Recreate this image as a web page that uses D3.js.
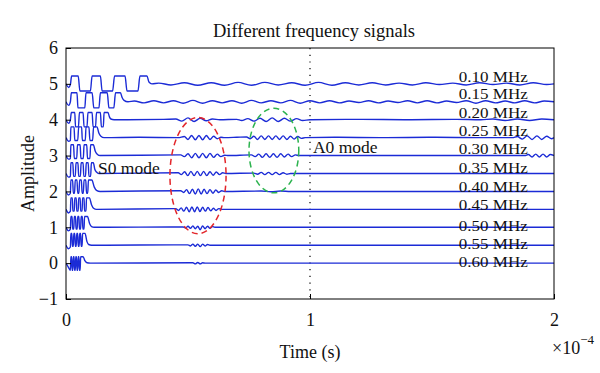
<!DOCTYPE html>
<html>
<head>
<meta charset="utf-8">
<script src="https://cdn.jsdelivr.net/npm/d3@7"></script>
<style>
  body { margin: 0; background: #fff; }
  text { font-family: "Liberation Serif", "Times New Roman", serif; fill: #111; }
</style>
</head>
<body>
<svg id="chart"></svg>
<script>
// time values in microseconds (axis shows them as x10^-4 s)
const freqLabels = ["0.10 MHz", "0.15 MHz", "0.20 MHz", "0.25 MHz", "0.30 MHz", "0.35 MHz",
  "0.40 MHz", "0.45 MHz", "0.50 MHz", "0.55 MHz", "0.60 MHz"];
const offsets = [5, 4.5, 4, 3.5, 3, 2.5, 2, 1.5, 1, 0.5, 0];
const labelPos = [5.19, 4.74, 4.21, 3.71, 3.2, 2.67, 2.14, 1.63, 1.04, 0.54, 0.04];
const xTicks = [0, 100, 200];
const xTickLabels = ["0", "1", "2"];
const yTicks = [-1, 0, 1, 2, 3, 4, 5, 6];

// [time (us), amplitude about the offset]
const sig010 = [[0,0],[1.1,-0.1],[1.8,-0.02],[2.3,0.22],[5.0,0.22],[5.7,-0.2],[10.0,-0.2],[10.7,0.22],
  [14.1,0.22],[14.8,-0.2],[19.1,-0.2],[19.9,0.22],[24.2,0.22],[25.0,-0.2],[29.5,-0.2],[30.3,0.22],
  [33.2,0.22],[34.0,0.05],[35.2,0],[38,0.02],[43,-0.03],[48.5,0.03],[54,-0.04],[59.5,0.03],[65,-0.04],
  [70.5,0.04],[76,-0.04],[81.5,0.04],[87,-0.03],[92.5,0.03],[98,-0.04],[103.5,0.04],[109,-0.04],
  [114.5,0.03],[120,-0.03],[125.5,0.03],[131,-0.03],[136.5,0.02],[142,-0.03],[147.5,0.03],[153,-0.02],
  [158.5,0.02],[164,-0.03],[169.5,0.03],[175,-0.02],[180.5,0.02],[186,-0.03],[191.5,0.03],[197,-0.02],[200,0]];

const sig015 = [[0,0],[1.1,-0.1],[1.8,0],[2.2,0.25],[4.5,0.25],[4.9,-0.17],[7.7,-0.17],[8.2,0.25],
  [10.7,0.25],[11.4,-0.17],[13.5,-0.17],[14.1,0.25],[16.9,0.25],[17.6,-0.17],[19.6,-0.17],[20.3,0.25],
  [22.3,0.25],[23.0,0.12],[23.8,0.04],[25.4,0],[28,0.02],[32,-0.03],[36,0.03],[40,-0.03],[44,0.03],
  [48,-0.04],[52,0.04],[56,-0.04],[60,0.03],[64,-0.03],[68,0.03],[72,-0.04],[76,0.04],[80,-0.03],
  [84,0.03],[88,-0.03],[92,0.04],[96,-0.04],[100,0.03],[104,-0.03],[108,0.03],[112,-0.03],[116,0.02],
  [120,-0.02],[124,0.03],[128,-0.03],[132,0.02],[136,-0.02],[140,0.03],[144,-0.03],[148,0.03],
  [152,-0.03],[156,0.02],[160,-0.02],[164,0.03],[168,-0.04],[172,0.03],[176,-0.03],[180,0.02],
  [184,-0.03],[188,0.03],[192,-0.03],[196,0.02],[200,0]];

const sig020 = [[0,0],[1.1,-0.1],[1.8,0],[2.2,0.2],[3.6,0.2],[3.9,-0.2],[5.1,-0.2],[5.5,0.2],[7.0,0.2],
  [7.4,-0.2],[8.6,-0.2],[9.0,0.2],[10.7,0.2],[11.1,-0.2],[12.1,-0.2],[12.5,0.2],[14.1,0.2],[14.5,-0.2],
  [15.3,-0.2],[15.6,0.2],[17.2,0.2],[17.8,0.08],[18.4,0.02],[19.7,0],[40,0.01],[45,0.02],[47.5,-0.04],
  [50,0.05],[52.5,-0.05],[55,0.04],[57.5,-0.03],[60,0.02],[63,0],[70,0.01],[72,-0.02],[74.5,0.03],
  [77,-0.04],[79.5,0.04],[82,-0.05],[84.5,0.05],[87,-0.05],[89.5,0.04],[92,-0.04],[94.5,0.03],
  [97,-0.02],[100,0],[120,0.01],[140,0],[160,0.01],[170,0],[175,0.02],[180,-0.02],[185,0.02],
  [190,-0.02],[195,0.02],[200,0]];

const sig025 = [[0,0],[1.0,-0.1],[1.8,-0.08],[2.0,0.3],[3.3,0.3],[3.6,-0.08],[4.8,-0.08],[5.2,0.3],
  [6.4,0.3],[6.7,-0.08],[7.9,-0.08],[8.2,0.3],[9.4,0.3],[9.8,-0.08],[10.9,-0.08],[11.3,0.3],[12.7,0.3],
  [13.5,0.12],[14.3,0.04],[15.6,0],[30,0.01],[46,0],[48.5,0.03],[50,-0.05],[51.5,0.06],[53,-0.06],
  [54.5,0.06],[56,-0.06],[57.5,0.06],[59,-0.05],[60.5,0.04],[62,-0.03],[63.5,0.01],[65,0],[70,0.01],
  [74,0.02],[75.5,-0.03],[77,0.04],[78.5,-0.05],[80,0.05],[81.5,-0.05],[83,0.05],[84.5,-0.05],[86,0.05],
  [87.5,-0.05],[89,0.05],[90.5,-0.05],[92,0.04],[93.5,-0.04],[95,0.03],[96.5,-0.02],[98,0],[110,0.01],
  [130,0],[150,0.01],[170,0],[183,0],[185,0.03],[187,-0.04],[189,0.05],[191,-0.05],[193,0.05],
  [195,-0.05],[197,0.04],[199,-0.03],[200,0]];

const sig030 = [[0,0],[1.0,-0.1],[1.8,-0.08],[2.0,0.3],[3.1,0.3],[3.4,-0.08],[4.4,-0.08],[4.7,0.3],
  [5.8,0.3],[6.1,-0.08],[7.1,-0.08],[7.4,0.3],[8.5,0.3],[8.8,-0.08],[9.8,-0.08],[10.1,0.3],[11.2,0.3],
  [12.0,0.12],[12.8,0.04],[14.0,0],[47,0.02],[48.5,-0.03],[50,0.05],[51.5,-0.06],[53,0.06],[54.5,-0.06],
  [56,0.06],[57.5,-0.06],[59,0.06],[60.5,-0.05],[62,0.04],[63.5,-0.03],[65,0.01],[66.5,0],[76,0.02],
  [77.5,-0.03],[79,0.04],[80.5,-0.05],[82,0.05],[83.5,-0.05],[85,0.05],[86.5,-0.05],[88,0.05],
  [89.5,-0.04],[91,0.04],[92.5,-0.03],[94,0.02],[95.5,0],[188,0],[189.5,0.03],[191,-0.04],[192.5,0.04],
  [194,-0.04],[195.5,0.04],[197,-0.04],[198.5,0.03],[200,0]];

const sig035 = [[0,0],[1.0,-0.1],[1.8,-0.08],[2.0,0.3],[2.8,0.3],[3.1,-0.08],[3.8,-0.08],[4.1,0.3],
  [4.9,0.3],[5.2,-0.08],[5.9,-0.08],[6.2,0.3],[7.0,0.3],[7.3,-0.08],[8.0,-0.08],[8.3,0.3],[9.1,0.3],
  [9.4,-0.08],[10.1,-0.08],[10.4,0.3],[11.2,0.3],[11.8,0.12],[12.5,0.04],[13.5,0],[46,0.02],[47.3,-0.03],
  [48.6,0.05],[49.9,-0.06],[51.2,0.06],[52.5,-0.06],[53.8,0.06],[55.1,-0.06],[56.4,0.06],[57.7,-0.06],
  [59,0.05],[60.3,-0.05],[61.6,0.04],[62.9,-0.03],[64.2,0.02],[65.5,0],[77,0.01],[78.5,-0.02],[80,0.03],
  [81.5,-0.03],[83,0.03],[84.5,-0.03],[86,0.03],[87.5,-0.03],[89,0.02],[90.5,-0.02],[92,0],[200,0]];

const sig040 = [[0,0],[1.0,-0.1],[1.8,-0.05],[2.0,0.32],[2.7,0.32],[3.0,-0.05],[3.5,-0.05],[3.8,0.32],
  [4.5,0.32],[4.8,-0.05],[5.3,-0.05],[5.6,0.32],[6.3,0.32],[6.6,-0.05],[7.1,-0.05],[7.4,0.32],[8.1,0.32],
  [8.4,-0.05],[8.9,-0.05],[9.2,0.32],[10.6,0.32],[11.6,0.12],[12.5,0.03],[14,0],[47,0.02],[48.2,-0.03],
  [49.4,0.05],[50.6,-0.06],[51.8,0.06],[53,-0.07],[54.2,0.07],[55.4,-0.07],[56.6,0.06],[57.8,-0.06],
  [59,0.05],[60.2,-0.05],[61.4,0.04],[62.6,-0.03],[63.8,0.02],[65,0],[80,0.01],[84,-0.01],[88,0.01],
  [92,0],[200,0]];

const sig045 = [[0,0],[1.0,-0.1],[1.8,-0.05],[2.0,0.32],[2.6,0.32],[2.8,-0.05],[3.4,-0.05],[3.6,0.32],
  [4.2,0.32],[4.4,-0.05],[5.0,-0.05],[5.2,0.32],[5.8,0.32],[6.0,-0.05],[6.6,-0.05],[6.8,0.32],[7.4,0.32],
  [7.6,-0.05],[8.2,-0.05],[8.4,0.32],[9.6,0.32],[10.5,0.12],[11.3,0.03],[12.5,0],[45,0.02],[46.1,-0.03],
  [47.2,0.04],[48.3,-0.05],[49.4,0.06],[50.5,-0.07],[51.6,0.07],[52.7,-0.07],[53.8,0.07],[54.9,-0.06],
  [56,0.06],[57.1,-0.05],[58.2,0.05],[59.3,-0.04],[60.4,0.03],[61.5,-0.03],[62.6,0.02],[64,0],[200,0]];

const sig050 = [[0,0],[1.0,-0.1],[1.8,-0.05],[2.0,0.3],[2.5,0.3],[2.7,-0.05],[3.2,-0.05],[3.4,0.3],
  [3.9,0.3],[4.1,-0.05],[4.6,-0.05],[4.8,0.3],[5.3,0.3],[5.5,-0.05],[6.0,-0.05],[6.2,0.3],[6.7,0.3],
  [6.9,-0.05],[7.4,-0.05],[7.6,0.3],[8.8,0.3],[9.7,0.1],[10.5,0.02],[11.5,0],[48,0.01],[49,-0.02],
  [50,0.03],[51,-0.03],[52,0.04],[53,-0.04],[54,0.03],[55,-0.07],[56,0.04],[57,-0.04],[58,0.03],
  [59,-0.03],[60,0.02],[61,0],[200,0]];

const sig055 = [[0,0],[1.0,-0.1],[1.8,-0.05],[2.0,0.33],[2.4,0.33],[2.6,-0.03],[3.0,-0.03],[3.2,0.33],
  [3.6,0.33],[3.8,-0.03],[4.2,-0.03],[4.4,0.33],[4.8,0.33],[5.0,-0.03],[5.4,-0.03],[5.6,0.33],[6.0,0.33],
  [6.2,-0.03],[6.6,-0.03],[6.8,0.33],[7.8,0.33],[8.6,0.1],[9.3,0.02],[10.5,0],[50,0.01],[51,-0.02],
  [52,0.03],[53,-0.03],[54,0.03],[55,-0.04],[56,0.03],[57,-0.02],[58,0.02],[59,0],[200,0]];

const sig060 = [[0,0],[1.0,-0.12],[1.8,-0.2],[2.0,0.18],[2.3,0.18],[2.5,-0.2],[2.8,-0.2],[3.0,0.18],
  [3.3,0.18],[3.5,-0.2],[3.8,-0.2],[4.0,0.18],[4.3,0.18],[4.5,-0.2],[4.8,-0.2],[5.0,0.18],[5.3,0.18],
  [5.5,-0.2],[5.8,-0.2],[6.0,0.18],[7.0,0.18],[7.8,0.06],[8.6,0.01],[10,0],[52,0.01],[53,-0.02],
  [54,0.02],[55,-0.02],[56,0.01],[57,0],[200,0]];

const signals = [sig010, sig015, sig020, sig025, sig030, sig035, sig040, sig045, sig050, sig055, sig060];

// dashed ellipses marking the modes: [centre t, centre amplitude, radius t, radius amplitude]
const s0Ellipse = [54.1, 2.44, 11.5, 1.62];
const a0Ellipse = [85.2, 3.14, 10.2, 1.18];

const margin = { top: 48, right: 46, bottom: 74, left: 66 },
  width = 600 - margin.left - margin.right,
  height = 373 - margin.top - margin.bottom;

const svg = d3.select("#chart")
  .attr("width", 600)
  .attr("height", 373)
  .append("g")
  .attr("transform", `translate(${margin.left},${margin.top})`);

const x = d3.scaleLinear().domain([0, 200]).range([0, width]);
const y = d3.scaleLinear().domain([-1, 6]).range([height, 0]);

svg.append("clipPath").attr("id", "clip")
  .append("rect").attr("width", width).attr("height", height);

// dotted marker at 1e-4 s
svg.append("line")
  .attr("x1", x(100)).attr("x2", x(100))
  .attr("y1", 0).attr("y2", height)
  .attr("stroke", "#000")
  .attr("stroke-width", 1.2)
  .attr("stroke-dasharray", "1.2,5.5");

const line = d3.line()
  .x(d => x(d[0]))
  .y(d => y(d[1]))
  .curve(d3.curveMonotoneX);

svg.append("g").attr("clip-path", "url(#clip)")
  .selectAll("path")
  .data(signals)
  .enter()
  .append("path")
  .attr("d", (s, i) => line(s.map(p => [p[0], p[1] + offsets[i]])))
  .attr("fill", "none")
  .attr("stroke", "#1b2bd6")
  .attr("stroke-width", 1.4);

// frame
svg.append("rect")
  .attr("width", width).attr("height", height)
  .attr("fill", "none").attr("stroke", "#000").attr("stroke-width", 1);

const xAxis = svg.append("g")
  .attr("transform", `translate(0,${height})`)
  .call(d3.axisBottom(x).tickValues(xTicks).tickSize(-5).tickSizeOuter(0).tickPadding(14)
    .tickFormat((d, i) => xTickLabels[i]));
const yAxis = svg.append("g")
  .call(d3.axisLeft(y).tickValues(yTicks).tickSize(-5).tickSizeOuter(0).tickPadding(8)
    .tickFormat(d3.format("d")));

[xAxis, yAxis].forEach(a => {
  a.select(".domain").remove();
  a.selectAll("text").style("font-size", "18px").style("font-family", "'Liberation Serif', serif").attr("fill", "#111");
});

// ellipses
[[s0Ellipse, "#e3262b"], [a0Ellipse, "#2db34f"]].forEach(([e, c]) => {
  svg.append("ellipse")
    .attr("cx", x(e[0])).attr("cy", y(e[1]))
    .attr("rx", x(e[0] + e[2]) - x(e[0]))
    .attr("ry", y(e[1] - e[3]) - y(e[1]))
    .attr("fill", "none")
    .attr("stroke", c)
    .attr("stroke-width", 1.5)
    .attr("stroke-dasharray", "6,4");
});

svg.append("text")
  .attr("x", x(13.1)).attr("y", y(2.67)).attr("dy", "0.35em")
  .style("font-size", "17.5px").text("S0 mode");
svg.append("text")
  .attr("x", x(101.2)).attr("y", y(3.23)).attr("dy", "0.35em")
  .style("font-size", "17.5px").text("A0 mode");

// frequency labels: tightly stacked, so a smaller size stretched to the reference width
svg.selectAll(".flabel")
  .data(freqLabels)
  .enter()
  .append("text")
  .attr("class", "flabel")
  .attr("x", x(161))
  .attr("y", (d, i) => y(labelPos[i]))
  .attr("dy", "0.35em")
  .attr("textLength", 69)
  .attr("lengthAdjust", "spacingAndGlyphs")
  .style("font-size", "15.5px")
  .text(d => d);

// titles
svg.append("text")
  .attr("x", width / 2 + 4).attr("y", -11)
  .attr("text-anchor", "middle")
  .style("font-size", "18.5px")
  .text("Different frequency signals");

svg.append("text")
  .attr("x", x(100)).attr("y", height + 59)
  .attr("text-anchor", "middle")
  .style("font-size", "18px")
  .text("Time (s)");

svg.append("text")
  .attr("transform", `translate(-32,${height / 2}) rotate(-90)`)
  .attr("text-anchor", "middle")
  .style("font-size", "18px")
  .text("Amplitude");

const expo = svg.append("text")
  .attr("x", width - 2).attr("y", height + 55)
  .style("font-size", "18px");
expo.append("tspan").text("×10");
expo.append("tspan").attr("dy", "-10").style("font-size", "13px").text("−4");
</script>
</body>
</html>
